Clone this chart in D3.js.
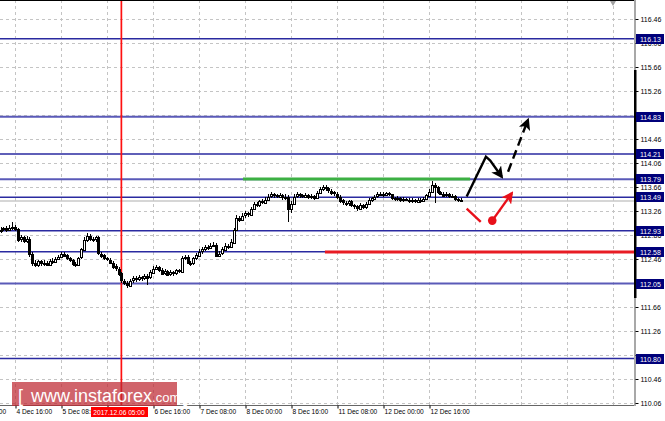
<!DOCTYPE html>
<html><head><meta charset="utf-8">
<script src="https://cdn.jsdelivr.net/npm/d3@7"></script>
<style>
html,body{margin:0;padding:0;background:#fff;}
svg{display:block;font-family:"Liberation Sans",Arial,sans-serif;}
</style></head>
<body><svg id="c" width="665" height="421"></svg>
<script>
// ---------- DATA ----------
// bar index i -> trading hour h = firstHour + i (hours counted from 4 Dec 00:00, weekend skipped)
const firstHour = 11;
const closes = [112.95,112.97,112.94,112.98,113.00,112.96,112.78,112.82,112.76,112.80,
112.55,112.40,112.36,112.42,112.38,112.40,112.37,112.43,112.41,112.46,
112.50,112.55,112.52,112.47,112.44,112.38,112.36,112.48,112.62,112.78,
112.85,112.80,112.78,112.82,112.55,112.52,112.47,112.45,112.40,112.34,
112.30,112.22,112.10,112.06,112.02,112.10,112.14,112.12,112.16,112.14,
112.18,112.15,112.24,112.30,112.33,112.28,112.22,112.26,112.20,112.24,
112.22,112.27,112.25,112.48,112.50,112.40,112.38,112.47,112.52,112.58,
112.62,112.66,112.64,112.68,112.70,112.52,112.55,112.62,112.68,112.66,
112.74,112.95,113.15,113.12,113.18,113.22,113.20,113.30,113.38,113.36,
113.42,113.40,113.45,113.50,113.54,113.52,113.50,113.53,113.49,113.50,
113.30,113.38,113.50,113.54,113.52,113.50,113.53,113.49,113.51,113.48,
113.56,113.62,113.66,113.64,113.60,113.57,113.55,113.50,113.44,113.40,
113.38,113.42,113.36,113.34,113.30,113.36,113.33,113.38,113.44,113.47,
113.50,113.54,113.55,113.53,113.56,113.54,113.48,113.46,113.48,113.44,
113.46,113.45,113.43,113.44,113.42,113.45,113.43,113.46,113.52,113.58,
113.70,113.66,113.58,113.55,113.52,113.54,113.50,113.51,113.46,113.44,113.45];
const firstOpen = 112.93;
const highs = [112.99,113.00,113.01,113.02,113.08,113.03,112.98,112.86,112.85,112.84,
112.82,112.57,112.44,112.45,112.45,112.44,112.43,112.46,112.47,112.49,
112.53,112.58,112.57,112.54,112.50,112.46,112.41,112.50,112.65,112.82,
112.89,112.88,112.83,112.85,112.84,112.58,112.55,112.50,112.48,112.43,
112.37,112.33,112.24,112.13,112.10,112.13,112.18,112.17,112.19,112.18,
112.21,112.21,112.27,112.34,112.36,112.35,112.31,112.29,112.28,112.27,
112.26,112.30,112.30,112.51,112.53,112.52,112.43,112.50,112.56,112.62,
112.66,112.70,112.69,112.72,112.74,112.72,112.59,112.66,112.72,112.71,
112.80,112.98,113.20,113.18,113.22,113.26,113.25,113.33,113.41,113.41,
113.45,113.46,113.49,113.54,113.57,113.56,113.55,113.56,113.55,113.54,
113.52,113.42,113.54,113.57,113.56,113.55,113.56,113.55,113.54,113.53,
113.59,113.66,113.70,113.69,113.66,113.62,113.60,113.57,113.52,113.46,
113.43,113.45,113.44,113.38,113.36,113.39,113.38,113.41,113.47,113.50,
113.53,113.57,113.58,113.57,113.58,113.58,113.55,113.50,113.51,113.50,
113.49,113.48,113.47,113.47,113.46,113.48,113.47,113.49,113.55,113.62,
113.76,113.73,113.68,113.60,113.57,113.57,113.56,113.54,113.53,113.48,113.48];
const lows = [112.90,112.92,112.91,112.92,112.95,112.93,112.74,112.75,112.72,112.73,
112.50,112.34,112.32,112.33,112.35,112.35,112.34,112.35,112.38,112.39,
112.44,112.48,112.49,112.44,112.41,112.34,112.32,112.34,112.46,112.60,
112.75,112.76,112.74,112.75,112.52,112.48,112.44,112.42,112.37,112.30,
112.26,112.18,112.06,112.02,111.98,112.00,112.06,112.08,112.09,112.10,
112.11,112.02,112.13,112.21,112.27,112.24,112.19,112.19,112.17,112.17,
112.18,112.19,112.22,112.23,112.44,112.37,112.35,112.36,112.45,112.50,
112.55,112.60,112.61,112.62,112.66,112.49,112.50,112.53,112.60,112.62,
112.64,112.72,112.93,113.08,113.10,113.15,113.16,113.18,113.27,113.32,
113.33,113.37,113.38,113.43,113.47,113.48,113.47,113.47,113.45,113.44,
113.08,113.22,113.36,113.47,113.48,113.47,113.47,113.46,113.46,113.44,
113.46,113.54,113.60,113.60,113.56,113.53,113.51,113.46,113.40,113.36,
113.34,113.35,113.32,113.30,113.26,113.28,113.29,113.30,113.36,113.41,
113.45,113.48,113.51,113.50,113.51,113.51,113.45,113.43,113.43,113.41,
113.41,113.42,113.40,113.40,113.39,113.40,113.40,113.41,113.44,113.50,
113.56,113.40,113.55,113.52,113.49,113.50,113.47,113.47,113.43,113.41,113.41];

const priceTicks = [116.46,116.06,115.66,115.26,114.86,114.46,114.06,113.66,113.26,112.86,112.46,112.06,111.66,111.26,110.86,110.46,110.06];
const hiddenPriceLabels = [114.86,112.06,110.86];
const levels = [116.13,114.83,114.21,113.79,113.49,112.93,112.58,112.05,110.80];
const softLevels = [114.83,113.79,112.05];
const bidPrice = 113.45;
const timeTickHours = [0,16,32,48,64,80,96,112,128,144,160];
const timeTickLabels = ["4 Dec 00:00","4 Dec 16:00","5 Dec 08:00","","6 Dec 16:00","7 Dec 08:00","8 Dec 00:00","8 Dec 16:00","11 Dec 08:00","12 Dec 00:00","12 Dec 16:00"];
const gridHours = [0,16,32,48,64,80,96,112,128,144,160,176,192,208,224];
const markerHour = 53, markerLabel = "2017.12.06 05:00";
const greenLine = {from:95.3, to:174.3, price:113.79};
const redLine = {from:123.8, price:112.58};
const blackPath = [[173.1,113.50],[179.8,114.165],[181.3,114.10],[185.3,113.83]];
const blackDash = [[187.5,113.915],[194.4,114.777]];
const redStroke = [[173.1,113.30],[178.0,113.08]];
const redDot = [182.0,113.10];
const redArrow = [[182.0,113.10],[188.8,113.555]];
const watermark = "www.instaforex";

// ---------- LAYOUT ----------
const plotR=635, plotB=405;
const svg = d3.select("#c");
const x = d3.scaleLinear().domain([16,160]).range([15,429]);
const y = d3.scaleLinear().domain([110.06,116.46]).range([403,19]);
const px = v=>Math.round(v)+0.5;

const defs = svg.append("defs");
defs.append("clipPath").attr("id","clip")
  .append("rect").attr("x",0).attr("y",0).attr("width",plotR).attr("height",plotB);
function marker(id,color){
  defs.append("marker").attr("id",id).attr("viewBox","0 0 10 10").attr("refX",8).attr("refY",5)
   .attr("markerWidth",5).attr("markerHeight",5).attr("orient","auto-start-reverse")
   .attr("markerUnits","strokeWidth")
   .append("path").attr("d","M0,0L10,5L0,10L2.5,5Z").attr("fill",color);
}
marker("ab","#000"); marker("ar","#e8101a");

const g = svg.append("g").attr("clip-path","url(#clip)");

// grid
g.selectAll(".hg").data(priceTicks).join("line")
 .attr("x1",0).attr("x2",plotR).attr("y1",d=>px(y(d))).attr("y2",d=>px(y(d)))
 .attr("stroke","#c4c4c4").attr("stroke-dasharray","3,3").attr("shape-rendering","crispEdges");
g.selectAll(".vg").data(gridHours).join("line")
 .attr("x1",d=>px(x(d))).attr("x2",d=>px(x(d))).attr("y1",0).attr("y2",plotB)
 .attr("stroke","#c4c4c4").attr("stroke-dasharray","3,3").attr("shape-rendering","crispEdges");

// bid line
g.append("line").attr("x1",0).attr("x2",plotR).attr("y1",px(y(bidPrice))+0.5).attr("y2",px(y(bidPrice))+0.5)
 .attr("stroke","#c8c8c8").attr("stroke-width",1.4);

// level lines
g.selectAll(".lv").data(levels).join("line")
 .attr("x1",0).attr("x2",plotR)
 .attr("y1",d=>y(d)).attr("y2",d=>y(d))
 .attr("stroke",d=>softLevels.includes(d)?"#5a5ab8":"#2a2aa0")
 .attr("stroke-width",d=>softLevels.includes(d)?2:1.5);

// green & red lines
g.append("line").attr("x1",x(greenLine.from)).attr("x2",x(greenLine.to))
 .attr("y1",Math.round(y(greenLine.price))).attr("y2",Math.round(y(greenLine.price))).attr("stroke","#3cb043").attr("stroke-width",3);
g.append("line").attr("x1",x(redLine.from)).attr("x2",plotR)
 .attr("y1",Math.round(y(redLine.price))).attr("y2",Math.round(y(redLine.price))).attr("stroke","#e81c24").attr("stroke-width",3);

// vertical marker
g.append("line").attr("x1",x(markerHour)).attr("x2",x(markerHour))
 .attr("y1",0).attr("y2",plotB).attr("stroke","#ff1010").attr("stroke-width",1.7);

// candles
const bars = closes.map((c,i)=>({h:firstHour+i,o:i?closes[i-1]:firstOpen,c:c,hi:highs[i],lo:lows[i]}));
const cg = g.append("g").attr("shape-rendering","crispEdges");
cg.selectAll(".wk").data(bars).join("line")
 .attr("x1",d=>px(x(d.h))).attr("x2",d=>px(x(d.h)))
 .attr("y1",d=>Math.round(y(d.hi))).attr("y2",d=>Math.round(y(d.lo))).attr("stroke","#000");
cg.selectAll(".bd").data(bars).join("rect")
 .attr("x",d=>Math.round(x(d.h))-0.5).attr("width",2)
 .attr("y",d=>Math.round(y(Math.max(d.o,d.c)))+0.5).attr("height",d=>Math.max(1,Math.round(Math.abs(y(d.o)-y(d.c)))))
 .attr("fill",d=>d.c>=d.o?"#fff":"#000").attr("stroke","#000").attr("stroke-width",1);

// arrows
const ln = d3.line().x(d=>x(d[0])).y(d=>y(d[1]));
g.append("path").attr("d",ln(blackPath)).attr("fill","none").attr("stroke","#000").attr("stroke-width",2.4)
 .attr("stroke-linejoin","miter").attr("marker-end","url(#ab)");
g.append("path").attr("d",ln(blackDash)).attr("fill","none").attr("stroke","#000").attr("stroke-width",2.4)
 .attr("stroke-dasharray","9,5").attr("marker-end","url(#ab)");
g.append("path").attr("d",ln(redStroke)).attr("fill","none").attr("stroke","#e8101a").attr("stroke-width",2.4);
g.append("path").attr("d",ln(redArrow)).attr("fill","none").attr("stroke","#e8101a").attr("stroke-width",2.4)
 .attr("marker-end","url(#ar)");
g.append("circle").attr("cx",x(redDot[0])).attr("cy",y(redDot[1])).attr("r",4.3).attr("fill","#e8101a");

// frame
svg.append("line").attr("x1",0).attr("x2",plotR).attr("y1",0.5).attr("y2",0.5).attr("stroke","#000");
svg.append("line").attr("x1",0).attr("x2",plotR+1).attr("y1",plotB+0.5).attr("y2",plotB+0.5).attr("stroke","#666");
svg.append("rect").attr("x",plotR-1).attr("y",0).attr("width",2).attr("height",plotB+1).attr("fill","#a8a8a8");
svg.append("rect").attr("x",plotR-1).attr("y",70).attr("width",2.5).attr("height",228).attr("fill","#000");
// shift marker
svg.append("path").attr("d",`M${plotR-25},1 L${plotR-19},1 L${plotR-22},6 Z`).attr("fill","#a0a0a0");

// right axis
const ra = svg.append("g").attr("transform",`translate(${plotR+0.5},0)`)
 .call(d3.axisRight(y).tickValues(priceTicks.concat([bidPrice])).tickSize(3)
   .tickFormat(d=>hiddenPriceLabels.includes(d)?"":d3.format(".2f")(d)));
ra.select(".domain").remove();
ra.selectAll("text").attr("font-size",7).attr("fill","#000").attr("x",5);
ra.selectAll("line").attr("stroke","#000");

// level labels
const lab = svg.append("g");
levels.forEach(v=>{
  const yy=Math.round(y(v));
  lab.append("rect").attr("x",plotR+1).attr("y",yy-5).attr("width",28).attr("height",10).attr("fill","#00007a");
  lab.append("text").attr("x",plotR+5).attr("y",yy+2.6).attr("font-size",7).attr("fill","#fff").text(v.toFixed(2));
});

// bottom axis
const ba = svg.append("g").attr("transform",`translate(0,${plotB+0.5})`)
 .call(d3.axisBottom(x).tickValues(timeTickHours).tickSize(3).tickFormat((d,i)=>timeTickLabels[i]));
ba.select(".domain").remove();
ba.selectAll("line").attr("stroke","#000").attr("transform","translate(0.5,0)");
ba.selectAll("text").attr("text-anchor","start").attr("dx",1).attr("y",4).attr("dy","0.71em")
 .attr("font-size",6.6).attr("fill","#000");

// marker date label
const mx = Math.round(x(markerHour));
svg.append("rect").attr("x",mx-30).attr("y",plotB+2).attr("width",57).attr("height",10).attr("fill","#ff0000");
svg.append("text").attr("x",mx-2).attr("y",plotB+9.5).attr("text-anchor","middle").attr("font-size",6.6)
 .attr("fill","#fff").text(markerLabel);

// watermark
const wm = svg.append("g");
wm.append("rect").attr("x",12).attr("y",382).attr("width",165).attr("height",24).attr("fill","rgba(190,40,50,0.72)");
const wt = wm.append("text").attr("x",18).attr("y",402).attr("fill","#fff").attr("font-size",18);
wt.append("tspan").text("[");
wt.append("tspan").attr("dx",8).text(watermark);
wt.append("tspan").attr("font-size",13).text(".com");
wt.append("tspan").attr("dx",3).text("]");
</script></body></html>
